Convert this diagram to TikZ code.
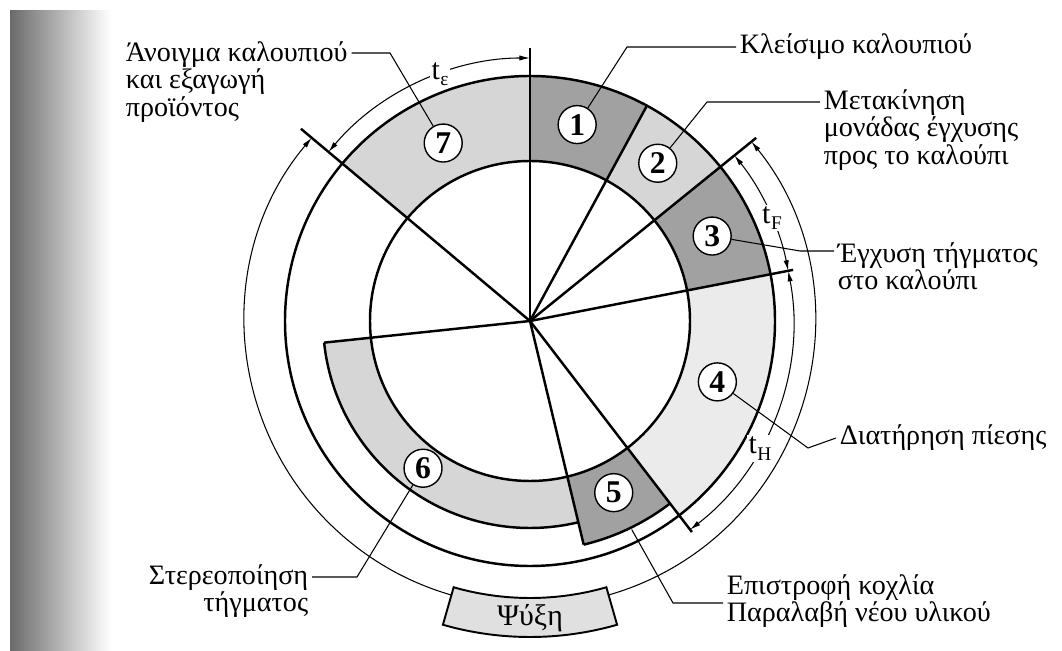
\documentclass[tikz,border=0pt]{standalone}
\usepackage{fontspec}
\setmainfont{Liberation Serif}
\usetikzlibrary{arrows.meta}

\definecolor{segdark}{gray}{0.63}
\definecolor{segmid}{gray}{0.84}
\definecolor{seglight}{gray}{0.92}

\newcommand{\tsub}[1]{t\kern0.3pt\raisebox{-0.45ex}{\fontsize{11}{11}\selectfont #1}}

\tikzset{
  ring/.style={line width=1.4pt},
  thinline/.style={line width=0.6pt},
  stepnum/.style={circle, draw, line width=0.8pt, fill=white, minimum size=0.76cm,
    inner sep=0pt, font=\fontsize{18}{18}\selectfont\bfseries},
  lbl/.style={font=\fontsize{16}{15.5}\selectfont, inner sep=2pt},
  timelbl/.style={fill=white, inner sep=1pt, font=\fontsize{17}{17}\selectfont},
}

\begin{document}
\begin{tikzpicture}[x=0.02cm, y=-0.02cm, >={Latex[length=6pt,width=3pt]}]
  \useasboundingbox (0,0) rectangle (1062,651);
  % shadow of the scan at the left edge
  \foreach \i in {0,...,49} {
    \pgfmathsetmacro{\shadev}{58*(1-\i/50)}
    \fill[black!\shadev] (10+2*\i,10) rectangle (12.6+2*\i,651);
  }

  \begin{scope}[shift={(530,321)}, yscale=-1]
    \coordinate (O) at (0,0);
    \def\Ri{160} \def\Rm{245} \def\Rfive{230} \def\Rsix{207}
    \def\Ro{285} \def\Ra{263}
    % phases
    \fill[segmid]   (90:\Ri) arc (90:140:\Ri) -- (140:\Rm) arc (140:90:\Rm) -- cycle;
    \fill[segdark]  (61.5:\Ri) arc (61.5:90:\Ri) -- (90:\Rm) arc (90:61.5:\Rm) -- cycle;
    \fill[segmid]   (39:\Ri) arc (39:61.5:\Ri) -- (61.5:\Rm) arc (61.5:39:\Rm) -- cycle;
    \fill[segdark]  (11:\Ri) arc (11:39:\Ri) -- (39:\Rm) arc (39:11:\Rm) -- cycle;
    \fill[seglight] (-52.5:\Ri) arc (-52.5:11:\Ri) -- (11:\Rm) arc (11:-52.5:\Rm) -- cycle;
    \fill[segdark]  (-76.5:\Ri) arc (-76.5:-52.5:\Ri) -- (-52.5:\Rfive) arc (-52.5:-76.5:\Rfive) -- cycle;
    \fill[segmid]   (-174:\Ri) arc (-174:-76.5:\Ri) -- (-76.5:\Rsix) arc (-76.5:-174:\Rsix) -- cycle;
    % circles and radial lines
    \draw[ring] (O) circle (\Ri);
    \draw[ring] (O) circle (\Rm);
    \foreach \a/\r in {140/299, 90/273, 61.5/245, 39/291, 11/268, -52.5/266, -76.5/230, 186/207}
      \draw[ring] (O) -- (\a:\r);
    \draw[ring] (-52.5:\Rfive) arc (-52.5:-76.5:\Rfive);
    \draw[ring] (-76.5:\Rsix) arc (-76.5:-174:\Rsix);
    % times
    \draw[thinline, <->] (140:\Ro) arc (140:399:\Ro);
    \draw[thinline, <->] (140:\Ra) arc (140:90:\Ra) node[timelbl, pos=0.6] (te) {\tsub{ε}};
    \draw[thinline, <->] (39:\Ra) arc (39:11:\Ra) node[timelbl, pos=0.57] (tf) {\tsub{F}};
    \draw[thinline, <->] (11:\Ra) arc (11:-52.5:\Ra) node[timelbl, pos=0.63] (th) {\tsub{H}};
    % cooling
    \filldraw[fill=black!12, line width=1.1pt] (254:277) arc (254:286:277) -- (286:316) arc (286:254:316) -- cycle;
    \node[lbl, font=\fontsize{17}{17}\selectfont] (cool) at (270:297) {Ψύξη};
    % steps
    \node[stepnum] (n1) at (76.5:202) {1};
    \node[stepnum] (n2) at (51:203) {2};
    \node[stepnum] (n3) at (25:201) {3};
    \node[stepnum] (n4) at (-18:197) {4};
    \node[stepnum] (n5) at (-64:191) {5};
    \node[stepnum] (n6) at (234:182) {6};
    \node[stepnum] (n7) at (116:198) {7};
    \coordinate (s5) at (-64:232);
  \end{scope}

  \node[lbl, anchor=west] (t1) at (736,47) {Κλείσιμο καλουπιού};
  \node[lbl, anchor=west, align=left] (t2) at (820,130) {Μετακίνηση\\μονάδας έγχυσης\\προς το καλούπι};
  \node[lbl, anchor=west, align=left] (t3) at (834,266) {Έγχυση τήγματος\\στο καλούπι};
  \node[lbl, anchor=west] (t4) at (836,438) {Διατήρηση πίεσης};
  \node[lbl, anchor=west, align=left] (t5) at (723,601) {Επιστροφή κοχλία\\Παραλαβή νέου υλικού};
  \node[lbl, anchor=east, align=right] (t6) at (312,591) {Στερεοποίηση\\τήγματος};
  \node[lbl, anchor=west, align=left] (t7) at (122,82) {Άνοιγμα καλουπιού\\και εξαγωγή\\προϊόντος};

  % leaders
  \coordinate (b1) at (627,47);
  \coordinate (b2) at (707,102);
  \coordinate (b3) at (800,251);
  \coordinate (b4) at (808,448);
  \coordinate (b5) at (673,603);
  \coordinate (b6) at (357,577);
  \coordinate (b7) at (390,53);
  \draw[thinline] (n1) -- (b1) -- (t1.west);
  \draw[thinline] (n2) -- (b2) -- (b2 -| t2.west);
  \draw[thinline] (n3) -- (b3) -- (b3 -| t3.west);
  \draw[thinline] (n4) -- (b4) -- (t4.west);
  \draw[thinline] (s5) -- (b5) -- (b5 -| t5.west);
  \draw[thinline] (n6) -- (b6) -- (b6 -| t6.east);
  \draw[thinline] (n7) -- (b7) -- (b7 -| t7.east);
\end{tikzpicture}
\end{document}
